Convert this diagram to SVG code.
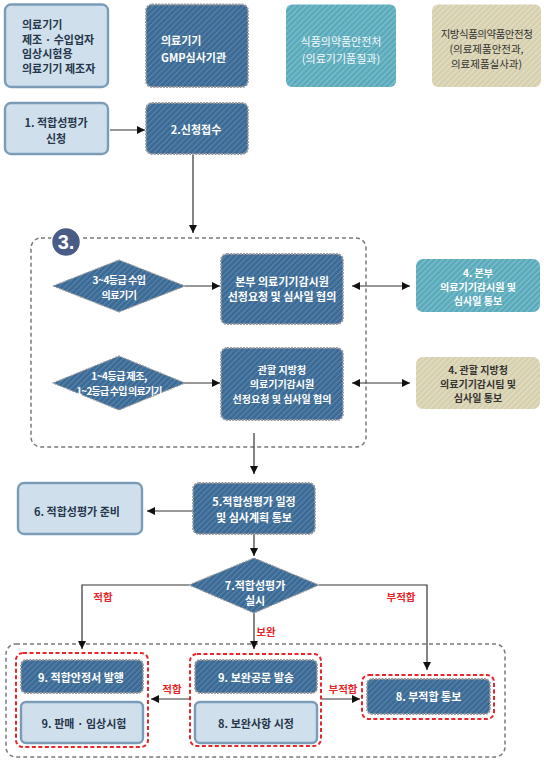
<svg xmlns="http://www.w3.org/2000/svg" width="544" height="764" viewBox="0 0 544 764">
<defs>
<pattern id="hDark" width="4" height="4" patternUnits="userSpaceOnUse" patternTransform="rotate(45)">
<rect width="4" height="4" fill="#3b6993"/><rect width="1.3" height="4" fill="#5683ab"/>
</pattern>
<pattern id="hTeal" width="4" height="4" patternUnits="userSpaceOnUse" patternTransform="rotate(45)">
<rect width="4" height="4" fill="#5aa9ba"/><rect width="1.3" height="4" fill="#7dc0cd"/>
</pattern>
<pattern id="hBeige" width="4" height="4" patternUnits="userSpaceOnUse" patternTransform="rotate(45)">
<rect width="4" height="4" fill="#d5cfad"/><rect width="1.3" height="4" fill="#e4dfc6"/>
</pattern>
<marker id="ah" viewBox="0 0 10 10" refX="10" refY="5" markerWidth="8" markerHeight="8" markerUnits="userSpaceOnUse" orient="auto-start-reverse">
<path d="M0,0 L10,5 L0,10 z" fill="#111"/>
</marker>
</defs>
<style>
text{font-family:"Noto Sans CJK KR","Noto Sans",sans-serif;font-size:11px;text-anchor:middle;dominant-baseline:central}
.dark{fill:url(#hDark);stroke:#9a9a9a;stroke-width:1.8;stroke-dasharray:2 1.2}
.light{fill:#cfe0ec;stroke:#7b9cb7;stroke-width:2.4}
.teal{fill:url(#hTeal)}
.beige{fill:url(#hBeige)}
.wt{fill:#fff;font-weight:700}
.dt{fill:#27364b;font-weight:700}
.rt{fill:#e8262a;font-weight:700;font-size:10.5px}
.sm{font-size:10px}
.xs{font-size:10px;letter-spacing:-0.5px}
.cont{fill:none;stroke:#7a7a7a;stroke-width:1.5;stroke-dasharray:4 3}
.red{fill:none;stroke:#e8262a;stroke-width:2;stroke-dasharray:4 2.5}
.ln{fill:none;stroke:#333;stroke-width:1.2}
.arr{marker-end:url(#ah)}
</style>

<g id="containers">
<rect class="cont" x="31" y="238" width="335" height="209" rx="10"/>
<rect class="cont" x="6" y="644" width="499" height="113" rx="10"/>
<rect class="red" x="16" y="653" width="132" height="94" rx="7"/>
<rect class="red" x="190" y="654" width="131" height="92" rx="7"/>
<rect class="red" x="362" y="675" width="132" height="44" rx="7"/>
</g>

<g id="connectors">
<line class="ln arr" x1="110" y1="130" x2="145" y2="130"/>
<line class="ln arr" x1="193" y1="155" x2="193" y2="233"/>
<line class="ln arr" x1="185" y1="286" x2="220" y2="286"/>
<line class="ln arr" x1="184" y1="383" x2="220" y2="383"/>
<line class="ln arr" x1="352" y1="286" x2="410" y2="286" marker-start="url(#ah)"/>
<line class="ln arr" x1="352" y1="383" x2="410" y2="383" marker-start="url(#ah)"/>
<line class="ln arr" x1="254" y1="433" x2="254" y2="474"/>
<line class="ln arr" x1="193" y1="511" x2="147" y2="511"/>
<line class="ln arr" x1="254" y1="534" x2="254" y2="556"/>
<polyline class="ln arr" points="189,585 82,585 82,649"/>
<polyline class="ln arr" points="319,585 427,585 427,670"/>
<line class="ln arr" x1="254" y1="613" x2="254" y2="649"/>
<line class="ln arr" x1="189" y1="699" x2="151" y2="699"/>
<line class="ln arr" x1="322" y1="699" x2="360" y2="699"/>
<text class="rt" x="103" y="596">적합</text>
<text class="rt" x="401" y="596">부적합</text>
<text class="rt" x="266" y="631">보완</text>
<text class="rt" x="172" y="688">적합</text>
<text class="rt" x="343" y="688">부적합</text>
</g>

<g id="badge3">
<circle cx="66" cy="242" r="14.5" fill="#4a5b87" stroke="#fff" stroke-width="1.5"/>
<text x="66" y="242" fill="#fff" font-weight="700" style="font-size:20px;font-family:'Liberation Sans',sans-serif">3.</text>
</g>

<g id="nodeA">
<rect class="light" x="5" y="4.5" width="103" height="82.5" rx="6"/>
<text class="dt" x="22" y="24" style="text-anchor:start">의료기기</text>
<text class="dt" x="22" y="38.5" style="text-anchor:start">제조 · 수입업자</text>
<text class="dt" x="22" y="53" style="text-anchor:start">임상시험용</text>
<text class="dt" x="22" y="67.5" style="text-anchor:start">의료기기 제조자</text>
</g>
<g id="nodeB">
<rect class="dark" x="146" y="4.5" width="102" height="82.5" rx="6"/>
<text class="wt" x="161" y="40" style="text-anchor:start">의료기기</text>
<text class="wt" x="161" y="57" style="text-anchor:start">GMP심사기관</text>
</g>
<g id="nodeC">
<rect class="teal" x="286" y="4.5" width="110" height="82.5" rx="6"/>
<text x="341" y="41" fill="#f4fafb">식품의약품안전처</text>
<text x="341" y="58" fill="#f4fafb">(의료기기품질과)</text>
</g>
<g id="nodeD">
<rect class="beige" x="432" y="4.5" width="109" height="82.5" rx="6"/>
<text x="486.5" y="33" fill="#333" style="font-size:10.5px;letter-spacing:-0.5px">지방식품의약품안전청</text>
<text x="486.5" y="48" fill="#333" style="font-size:10.5px">(의료제품안전과,</text>
<text x="486.5" y="63" fill="#333" style="font-size:10.5px">의료제품실사과)</text>
</g>

<g id="node1">
<rect class="light" x="5" y="103" width="103" height="51" rx="6"/>
<text class="dt" x="56" y="121.5">1. 적합성평가</text>
<text class="dt" x="56" y="137.5">신청</text>
</g>
<g id="node2">
<rect class="dark" x="146" y="103" width="102" height="51" rx="6"/>
<text class="wt" x="196" y="129">2.신청접수</text>
</g>

<g id="diamond1">
<polygon class="dark" points="53,286 119,260 185,286 119,312" style="stroke-width:1.2"/>
<text class="wt xs" x="119" y="279">3~4등급 수입</text>
<text class="wt xs" x="119" y="294">의료기기</text>
</g>
<g id="diamond2">
<polygon class="dark" points="53,383 119,356 185,383 119,410" style="stroke-width:1.2"/>
<text class="wt xs" x="119" y="375.5">1~4등급 제조,</text>
<text class="wt xs" x="119" y="390" style="letter-spacing:-0.8px">1~2등급 수입 의료기기</text>
</g>

<g id="nodeHQ">
<rect class="dark" x="221" y="254" width="122" height="70" rx="6"/>
<text class="wt" x="282" y="281">본부 의료기기감시원</text>
<text class="wt" x="282" y="296">선정요청 및 심사일 협의</text>
</g>
<g id="nodeRegion">
<rect class="dark" x="221" y="348" width="122" height="72" rx="6"/>
<text class="wt sm" x="282" y="369">관할 지방청</text>
<text class="wt sm" x="282" y="383.5">의료기기감시원</text>
<text class="wt sm" x="282" y="398">선정요청 및 심사일 협의</text>
</g>
<g id="node4a">
<rect class="teal" x="416" y="259" width="124" height="53" rx="7"/>
<text class="wt sm" x="478" y="272">4. 본부</text>
<text class="wt sm" x="478" y="286">의료기기감시원 및</text>
<text class="wt sm" x="478" y="300">심사일 통보</text>
</g>
<g id="node4b">
<rect class="beige" x="416" y="357" width="124" height="52" rx="7"/>
<text class="sm" x="478" y="369" fill="#333" font-weight="700">4. 관할 지방청</text>
<text class="sm" x="478" y="383" fill="#333" font-weight="700">의료기기감시팀 및</text>
<text class="sm" x="478" y="397" fill="#333" font-weight="700">심사일 통보</text>
</g>

<g id="node5">
<rect class="dark" x="193" y="483" width="122" height="51" rx="6"/>
<text class="wt" x="254" y="501">5.적합성평가 일정</text>
<text class="wt" x="254" y="516.5">및 심사계획 통보</text>
</g>
<g id="node6">
<rect class="light" x="18" y="483" width="124" height="51" rx="6"/>
<text class="dt" x="77" y="510.5">6. 적합성평가 준비</text>
</g>
<g id="diamond7">
<polygon class="dark" points="189,585 254,558 319,585 254,613" style="stroke-width:1.2"/>
<text class="wt" x="255" y="584.5">7.적합성평가</text>
<text class="wt" x="255" y="599.5">실시</text>
</g>

<g id="node9a">
<rect class="dark" x="21" y="660" width="122" height="33" rx="5"/>
<text class="wt" x="81" y="677">9. 적합안정서 발행</text>
</g>
<g id="node9b">
<rect class="light" x="21" y="702" width="122" height="41" rx="5"/>
<text class="dt" x="84" y="722.5">9. 판매 · 임상시험</text>
</g>
<g id="node9c">
<rect class="dark" x="195" y="660" width="122" height="33" rx="5"/>
<text class="wt" x="256" y="677">9. 보완공문 발송</text>
</g>
<g id="node8a">
<rect class="light" x="195" y="702" width="122" height="41" rx="5"/>
<text class="dt" x="256" y="722.5">8. 보완사항 시정</text>
</g>
<g id="node8b">
<rect class="dark" x="367" y="679" width="123" height="35" rx="5"/>
<text class="wt" x="428.5" y="696">8. 부적합 통보</text>
</g>
</svg>
